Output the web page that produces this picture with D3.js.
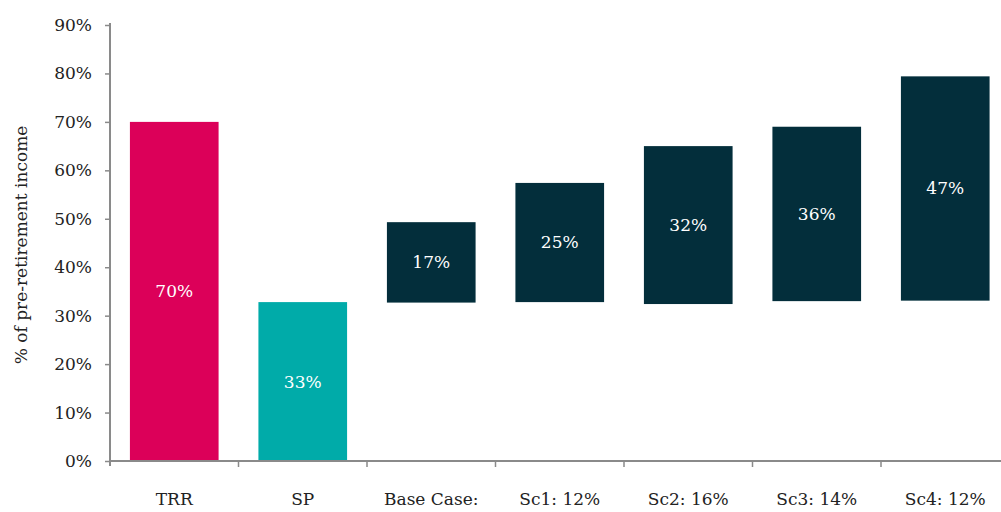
<!DOCTYPE html>
<html>
<head>
    <meta charset="utf-8">
    <script src="https://d3js.org/d3.v7.min.js"></script>
    <style>
        body { margin: 0; background: #fff; font-family: "DejaVu Serif", serif; }
        .axis path, .axis line { stroke: #8a8a8a; }
        .axis text { font-family: "DejaVu Serif", serif; font-size: 17px; fill: #222; }
    </style>
</head>
<body>
<script>
    const categories = ["TRR", "SP", "Base Case:", "Sc1: 12%", "Sc2: 16%", "Sc3: 14%", "Sc4: 12%"];
    const barBase = [0, 0, 32.7, 32.8, 32.4, 33.0, 33.1];
    const barTop = [70, 32.8, 49.3, 57.4, 65.0, 69.0, 79.4];
    const barLabels = ["70%", "33%", "17%", "25%", "32%", "36%", "47%"];
    const barColors = ["#dc0059", "#00aba9", "#032e3b", "#032e3b", "#032e3b", "#032e3b", "#032e3b"];
    const yTicks = [0, 10, 20, 30, 40, 50, 60, 70, 80, 90];

    const width = 1001, height = 512;
    const mLeft = 110, mTop = 25, mBottom = 461;

    const svg = d3.select('body').append('svg')
        .attr('width', width)
        .attr('height', height);

    const x = d3.scaleBand()
        .domain(categories)
        .range([mLeft, mLeft + 7 * 128.5])
        .padding(0);
    const y = d3.scaleLinear()
        .domain([0, 90])
        .range([mBottom, mTop]);

    const barW = x.bandwidth() * 0.69;
    const data = categories.map((c, i) => ({ c, lo: barBase[i], hi: barTop[i], label: barLabels[i], color: barColors[i] }));

    // bars
    svg.append('g').selectAll('rect')
        .data(data)
        .enter().append('rect')
        .attr('x', d => x(d.c) + (x.bandwidth() - barW) / 2)
        .attr('width', barW)
        .attr('y', d => y(d.hi))
        .attr('height', d => y(d.lo) - y(d.hi))
        .attr('fill', d => d.color);

    // value labels
    svg.append('g').selectAll('text')
        .data(data)
        .enter().append('text')
        .attr('x', d => x(d.c) + x.bandwidth() / 2)
        .attr('y', d => (y(d.lo) + y(d.hi)) / 2)
        .attr('dy', '0.35em')
        .attr('text-anchor', 'middle')
        .attr('fill', '#fff')
        .style('font-size', '17px')
        .text(d => d.label);

    // y axis
    const yAxis = svg.append('g')
        .attr('class', 'axis')
        .attr('transform', `translate(${mLeft},0)`)
        .call(d3.axisLeft(y).tickValues(yTicks).tickSize(5).tickPadding(13).tickFormat(d => d + '%'));
    yAxis.select('.domain')
        .attr('d', `M0,${mTop - 2}V${mBottom + 5}`)
        .attr('stroke-width', 2);
    yAxis.selectAll('.tick line').attr('stroke-width', 1.5);

    // x axis: line, boundary ticks, labels
    const xAxis = svg.append('g').attr('class', 'axis');
    xAxis.append('line')
        .attr('x1', mLeft).attr('x2', width)
        .attr('y1', y(0)).attr('y2', y(0))
        .attr('stroke-width', 2);
    xAxis.selectAll('line.sep')
        .data(categories.slice(1))
        .enter().append('line')
        .attr('class', 'sep')
        .attr('x1', d => x(d)).attr('x2', d => x(d))
        .attr('y1', y(0)).attr('y2', y(0) + 6)
        .attr('stroke-width', 1.5);
    xAxis.selectAll('text')
        .data(categories)
        .enter().append('text')
        .attr('x', d => x(d) + x.bandwidth() / 2)
        .attr('y', y(0) + 44)
        .attr('text-anchor', 'middle')
        .text(d => d);

    // y axis title
    svg.append('text')
        .attr('transform', `translate(27,${(mTop + mBottom) / 2 + 2}) rotate(-90)`)
        .attr('text-anchor', 'middle')
        .attr('fill', '#222')
        .style('font-size', '17px')
        .text('% of pre-retirement income');
</script>
</body>
</html>
